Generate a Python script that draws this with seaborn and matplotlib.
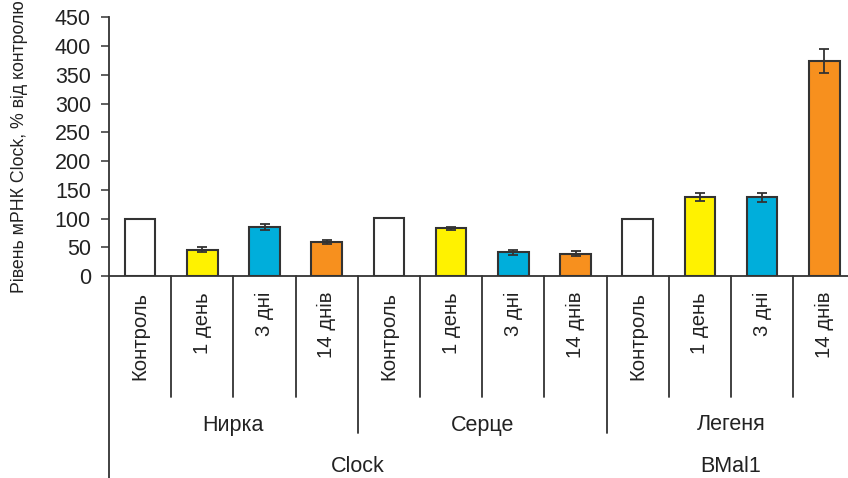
import matplotlib
matplotlib.use("Agg")
import matplotlib.pyplot as plt
import matplotlib.transforms as mtransforms
from matplotlib.lines import Line2D
import numpy as np
import pandas as pd
import seaborn as sns

# Relative mRNA level, % of control
tissues = ["Нирка", "Серце", "Легеня"]
days = ["Контроль", "1 день", "3 дні", "14 днів"]
values_kidney = [100, 46, 85, 59]
values_heart = [101, 83, 41, 39]
values_lung = [100, 138, 137, 374]
err_kidney = [0, 4, 5, 3]
err_heart = [0, 3, 4, 4]
err_lung = [0, 7, 8, 21]
genes = ["Clock", "BMal1"]
gene_tissue_count = [2, 1]
day_colors = ["#FFFFFF", "#FFF200", "#00AEDB", "#F7901E"]
y_ticks = [0, 50, 100, 150, 200, 250, 300, 350, 400, 450]

sns.set_style("white")
plt.rcParams["font.family"] = ["Liberation Sans", "DejaVu Sans"]

values = values_kidney + values_heart + values_lung
errors = err_kidney + err_heart + err_lung
df = pd.DataFrame({
    "pos": np.arange(len(values)),
    "value": values,
    "err": errors,
    "day": days * len(tissues),
    "tissue": np.repeat(tissues, len(days)),
})

W, H = 848, 478
fig = plt.figure(figsize=(W / 100, H / 100), dpi=100)
ax_left, ax_bottom_px, ax_top_px, slot_px = 109, 276, 17.3, 62.2
ax = fig.add_axes([ax_left / W, 1 - ax_bottom_px / H,
                   slot_px * len(values) / W, (ax_bottom_px - ax_top_px) / H])

line_color = "#333333"
text_color = "#222222"
sns.barplot(data=df, x="pos", y="value", hue="day", hue_order=days,
            palette=dict(zip(days, day_colors)), dodge=False, width=0.49,
            saturation=1, edgecolor=line_color, linewidth=1.5,
            errorbar=None, legend=False, ax=ax)

has_err = df["err"] > 0
ax.errorbar(df.loc[has_err, "pos"], df.loc[has_err, "value"],
            yerr=df.loc[has_err, "err"], fmt="none", ecolor=line_color,
            elinewidth=1.3, capsize=3.5, capthick=1.3, zorder=5)

ax.set_xlim(-0.5, len(values) - 0.5)
ax.set_ylim(0, 450)
ax.set_yticks(y_ticks)
ax.set_xticks([])
ax.set_xlabel("")
ax.set_ylabel("")
ax.tick_params(axis="y", direction="out", length=6, width=1.1,
               color=line_color, labelsize=15.5, pad=7, labelcolor=text_color,
               left=True)
for side in ["top", "right"]:
    ax.spines[side].set_visible(False)
for side in ["left", "bottom"]:
    ax.spines[side].set_color(line_color)
    ax.spines[side].set_linewidth(1.3)

# multi-level category axis below the bars
trans = mtransforms.blended_transform_factory(ax.transData, fig.transFigure)
fy = lambda py: 1 - py / H

def vline(x, y0, y1):
    ax.add_line(Line2D([x, x], [fy(y0), fy(y1)], transform=trans,
                       color=line_color, lw=1.3, clip_on=False))

n_days = len(days)
for k in range(1, len(values)):
    if k % n_days == 0:
        vline(k - 0.5, ax_bottom_px, 433)
    else:
        vline(k - 0.5, ax_bottom_px, 397)
vline(-0.5, ax_bottom_px, H)

for i, lab in enumerate(df["day"]):
    ax.text(i, fy(292), lab, transform=trans, rotation=90, ha="center",
            va="top", fontsize=14.6, color=text_color)

for t, name in enumerate(tissues):
    ax.text(t * n_days + (n_days - 1) / 2, fy(425), name, transform=trans,
            ha="center", va="center", fontsize=15.5, color=text_color)

start = 0
for g, cnt in zip(genes, gene_tissue_count):
    span = cnt * n_days
    ax.text(start + (span - 1) / 2, fy(467), g, transform=trans,
            ha="center", va="center", fontsize=15.5, color=text_color)
    start += span

fig.text(20 / W, fy(147), "Рівень мРНК Clock, % від контролю", rotation=90,
         ha="center", va="center", fontsize=12.8, color=text_color)

fig.savefig("out.png", dpi=100)
